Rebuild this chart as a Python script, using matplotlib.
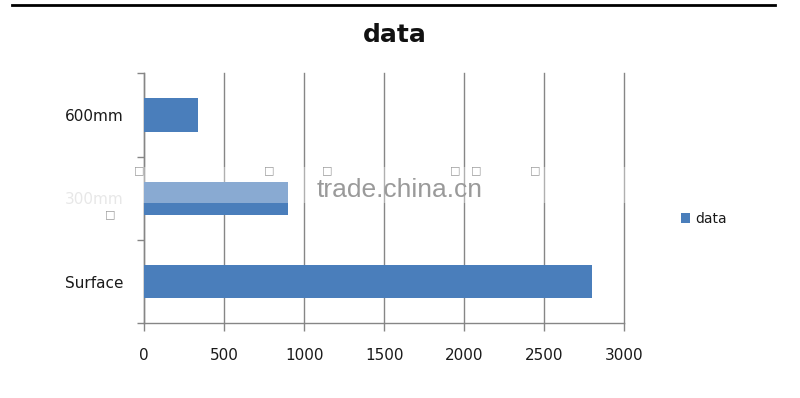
import matplotlib
matplotlib.use("Agg")
import matplotlib.pyplot as plt
from matplotlib.patches import Patch, Rectangle
from matplotlib.lines import Line2D

categories = ["Surface", "300mm", "600mm"]
values = [2800, 900, 335]
series_name = "data"
xticks = [0, 500, 1000, 1500, 2000, 2500, 3000]

bar_color = "#4a7ebb"
grid_color = "#868686"
text_color = "#1a1a1a"

fig = plt.figure(figsize=(8, 3.98), dpi=100)
ax = fig.add_axes([144/800, 1-323.3/398, (624.3-144)/800, (323.3-73.3)/398])

ypos = list(range(len(categories)))
ax.barh(ypos, values, height=0.4, color=bar_color, zorder=3)
ax.set_xlim(0, 3000)
ax.set_ylim(-0.5, len(categories)-0.5)
ax.set_xticks(xticks)
ax.set_xticklabels([str(v) for v in xticks])
ax.set_yticks(ypos)
ax.set_yticklabels(categories)
ax.set_yticks([i - 0.5 for i in range(len(categories)+1)], minor=True)

ax.grid(axis="x", color=grid_color, linewidth=1.0, zorder=1)
for gl in ax.get_xgridlines():
    gl.set_clip_on(False)
for s in ["top", "right"]:
    ax.spines[s].set_visible(False)
for s in ["left", "bottom"]:
    ax.spines[s].set_color(grid_color)
    ax.spines[s].set_linewidth(1.0)

ax.tick_params(axis="x", which="major", length=6, color=grid_color, width=1.0,
               labelsize=11, labelcolor=text_color, pad=12)
ax.tick_params(axis="y", which="major", length=0, labelsize=11,
               labelcolor=text_color, pad=15)
ax.tick_params(axis="y", which="minor", length=5, color=grid_color, width=1.0)

# title
fig.text(395/800, 1-35/398, "data", ha="center", va="center",
         fontsize=18, fontweight="bold", color="#111111")

# top rule
fig.add_artist(Line2D([12/800, 775/800], [1-5/398, 1-5/398],
                      color="black", linewidth=2))

# legend
handles = [Patch(facecolor=bar_color, edgecolor="none", label=series_name)]
fig.legend(handles=handles, loc="center left",
           bbox_to_anchor=(674/800, 1-219/398), frameon=False,
           handlelength=0.65, handleheight=0.65, handletextpad=0.4,
           borderpad=0, fontsize=10, labelcolor=text_color)

# watermark haze and text
fig.add_artist(Rectangle((60/800, 1-207/398), (140-60)/800, (207-167)/398,
                         transform=fig.transFigure, facecolor="white",
                         edgecolor="none", alpha=0.9, zorder=5))
fig.add_artist(Rectangle((140/800, 1-203/398), (693-140)/800, (203-167)/398,
                         transform=fig.transFigure, facecolor="white",
                         edgecolor="none", alpha=0.35, zorder=5))
fig.text(400/800, 1-190/398, "trade.china.cn", ha="center", va="center",
         fontsize=19, family="Liberation Sans", color="#9a9a9a", zorder=6)
for bx, by in [(139, 170), (269, 170), (327, 170), (455, 170), (476, 170),
               (535, 170), (110, 214)]:
    fig.text(bx/800, 1-by/398, "\u25a1", ha="center", va="center",
             fontsize=8, color="#9a9a9a", zorder=6)

fig.savefig("out.png", dpi=100, facecolor="white")
